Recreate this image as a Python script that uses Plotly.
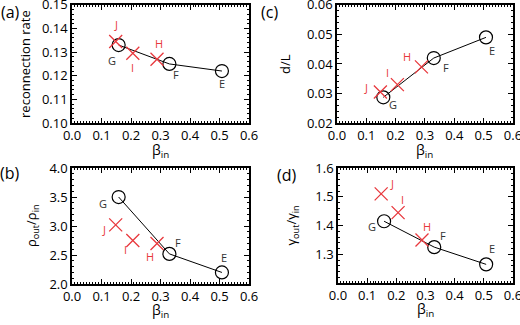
import plotly.graph_objects as go

beta_circ = [0.158, 0.33, 0.508]
circ_labels = ["G", "F", "E"]
beta_x = [0.148, 0.206, 0.288]
x_labels = ["J", "I", "H"]

rate_circ = [0.133, 0.125, 0.122]
rate_x = [0.1345, 0.1295, 0.127]
dl_circ = [0.0287, 0.042, 0.049]
dl_x = [0.0305, 0.033, 0.039]
rho_circ = [3.5, 2.52, 2.2]
rho_x = [3.02, 2.75, 2.70]
gam_circ = [1.415, 1.325, 1.265]
gam_x = [1.51, 1.445, 1.35]

xticks = [0.0, 0.1, 0.2, 0.3, 0.4, 0.5, 0.6]

FONT = "Open Sans"
RED = "#e8383d"
GRAY = "#333333"

fig = go.Figure()

# offsets are screen pixels (dx right, dy down)
panels = [
    dict(xa="x", ya="y", circ=rate_circ, xs=rate_x, yr=[0.10, 0.15], ydt=0.01, ymin=0.002, ytv=None,
         ytitle="reconnection rate", tag="(a)", xdom=[0.1385, 0.479], ydom=[0.6215, 0.985],
         coff=[(-7, 15), (7, 11), (0, 12)], xoff=[(0, -17), (0, 14), (2, -16)],
         yt_shift=-47, tag_dx=-62, tag_dy=7, xt_dy=24),
    dict(xa="x2", ya="y2", circ=dl_circ, xs=dl_x, yr=[0.02, 0.06], ydt=0.01, ymin=0.002, ytv=None,
         ytitle="d/L", tag="(c)", xdom=[0.648, 0.9865], ydom=[0.6215, 0.985],
         coff=[(10, 7), (12, 9), (6, 13)], xoff=[(-14, -5), (-10, -12), (-14, -10)],
         yt_shift=-52, tag_dx=-67, tag_dy=7, xt_dy=24),
    dict(xa="x3", ya="y3", circ=rho_circ, xs=rho_x, yr=[2.0, 4.0], ydt=0.5, ymin=0.1, ytv=None,
         ytitle="ρ<sub>out</sub>/ρ<sub>in</sub>", tag="(b)", xdom=[0.1385, 0.479], ydom=[0.126, 0.483],
         coff=[(-16, 6), (9, -11), (2, -15)], xoff=[(-12, 5), (-7, 9), (-7, 13)],
         yt_shift=-40, tag_dx=-62, tag_dy=5, xt_dy=23),
    dict(xa="x4", ya="y4", circ=gam_circ, xs=gam_x, yr=[1.2, 1.6], ydt=0.1, ymin=0.02, ytv=[1.3, 1.4, 1.5, 1.6],
         ytitle="γ<sub>out</sub>/γ<sub>in</sub>", tag="(d)", xdom=[0.65, 0.9865], ydom=[0.129, 0.483],
         coff=[(-12, 5), (9, -12), (6, -16)], xoff=[(11, -10), (4, -13), (5, -13)],
         yt_shift=-46, tag_dx=-51, tag_dy=7, xt_dy=23),
]

annotations = []
for p in panels:
    xa, ya = p["xa"], p["ya"]
    fig.add_trace(go.Scatter(
        x=beta_circ, y=p["circ"], mode="lines+markers", xaxis=xa, yaxis=ya,
        line=dict(color="black", width=1),
        marker=dict(symbol="circle-open", size=13, color="black", line=dict(width=1.2)),
        showlegend=False, hoverinfo="skip"))
    fig.add_trace(go.Scatter(
        x=beta_x, y=p["xs"], mode="markers", xaxis=xa, yaxis=ya,
        marker=dict(symbol="x-thin-open", size=13, color=RED, line=dict(width=1.3, color=RED)),
        showlegend=False, hoverinfo="skip"))
    xk = "xaxis" if xa == "x" else "xaxis" + xa[1:]
    yk = "yaxis" if ya == "y" else "yaxis" + ya[1:]
    fig.layout[xk] = dict(domain=p["xdom"], anchor=ya, range=[0, 0.6], tickvals=xticks,
                          ticktext=[f"{v:.1f}" for v in xticks], automargin=False,
                          ticklabeloverflow="allow",
                          showline=True, mirror="ticks", linecolor="black", linewidth=1.5,
                          ticks="inside", ticklen=5, tickcolor="black", showgrid=False, zeroline=False,
                          minor=dict(dtick=0.01, ticks="inside", ticklen=2.5, tickcolor="black", showgrid=False),
                          tickfont=dict(family=FONT, size=13, color="black"))
    ydict = dict(domain=p["ydom"], anchor=xa, range=p["yr"], dtick=p["ydt"], tick0=p["yr"][0],
                 automargin=False, ticklabeloverflow="allow",
                 showline=True, mirror="ticks", linecolor="black", linewidth=1.5,
                 ticks="inside", ticklen=5, tickcolor="black", showgrid=False, zeroline=False,
                 minor=dict(dtick=p["ymin"], tick0=p["yr"][0], ticks="inside", ticklen=2.5,
                            tickcolor="black", showgrid=False),
                 tickformat=".2f" if p["ydt"] == 0.01 else ".1f",
                 tickfont=dict(family=FONT, size=13, color="black"))
    if p["ytv"] is not None:
        ydict["tickvals"] = p["ytv"]
    fig.layout[yk] = ydict
    for xv, yv, lab, (dx, dy) in zip(beta_circ, p["circ"], circ_labels, p["coff"]):
        annotations.append(dict(x=xv, y=yv, xref=xa, yref=ya, text=lab, showarrow=False,
                                xanchor="center", yanchor="middle",
                                xshift=dx, yshift=-dy, font=dict(family=FONT, size=11, color=GRAY)))
    for xv, yv, lab, (dx, dy) in zip(beta_x, p["xs"], x_labels, p["xoff"]):
        annotations.append(dict(x=xv, y=yv, xref=xa, yref=ya, text=lab, showarrow=False,
                                xanchor="center", yanchor="middle",
                                xshift=dx, yshift=-dy, font=dict(family=FONT, size=11, color=RED)))
    xdom, ydom = p["xdom"], p["ydom"]
    annotations.append(dict(x=(xdom[0] + xdom[1]) / 2, y=ydom[0], xref="paper", yref="paper",
                            text="β<sub>in</sub>", showarrow=False, xanchor="center", yanchor="top",
                            yshift=-p["xt_dy"] + 9,
                            font=dict(family=FONT, size=14, color="black")))
    annotations.append(dict(x=xdom[0], y=(ydom[0] + ydom[1]) / 2, xref="paper", yref="paper",
                            text=p["ytitle"], showarrow=False, textangle=-90, xanchor="center",
                            yanchor="middle",
                            xshift=p["yt_shift"], font=dict(family=FONT, size=13, color="black")))
    annotations.append(dict(x=xdom[0], y=ydom[1], xref="paper", yref="paper",
                            text=p["tag"], showarrow=False, xanchor="center", yanchor="middle",
                            xshift=p["tag_dx"], yshift=-p["tag_dy"],
                            font=dict(family=FONT, size=16, color="black")))

fig.update_layout(width=520, height=325, margin=dict(l=0, r=0, t=0, b=0),
                  paper_bgcolor="white", plot_bgcolor="white", annotations=annotations)

fig.write_html("out.html", config={"displayModeBar": False},
               post_script="document.body.style.margin='0px';")
